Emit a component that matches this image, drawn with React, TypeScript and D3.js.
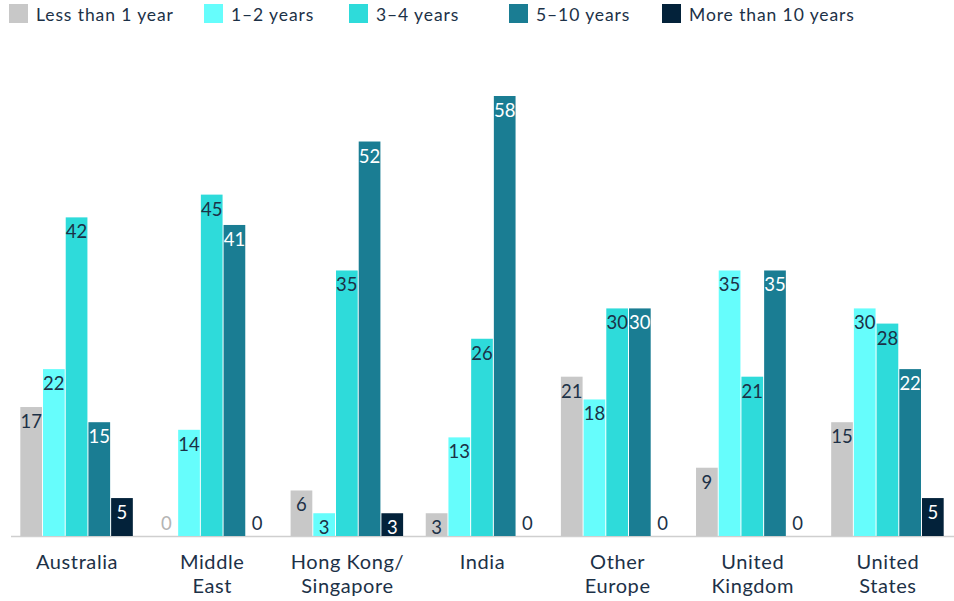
import React from "react";
import * as d3 from "d3";

const categories: string[][] = [
  ["Australia"],
  ["Middle", "East"],
  ["Hong Kong/", "Singapore"],
  ["India"],
  ["Other", "Europe"],
  ["United", "Kingdom"],
  ["United", "States"],
];
const seriesNames = ["Less than 1 year", "1–2 years", "3–4 years", "5–10 years", "More than 10 years"];
const lessThan1 = [17, 0, 6, 3, 21, 9, 15];
const oneToTwo = [22, 14, 3, 13, 18, 35, 30];
const threeToFour = [42, 45, 35, 26, 30, 21, 28];
const fiveToTen = [15, 41, 52, 58, 30, 35, 22];
const moreThan10 = [5, 0, 3, 0, 0, 0, 5];
const seriesValues = [lessThan1, oneToTwo, threeToFour, fiveToTen, moreThan10];
const colors = ["#c8c8c8", "#66fdfc", "#2edbda", "#1a7d93", "#03223a"];
const labelColors = ["#1c3147", "#1c3147", "#1c3147", "#ffffff", "#ffffff"];
const zeroColors = ["#b4b4b4", "#1c3147", "#1c3147", "#1c3147", "#1c3147"];
const legendX = [9, 204, 349, 509, 662];

const W = 954;
const H = 601;
const FONT = "Lato, 'Open Sans', sans-serif";
const TEXT = "#1c3147";

export default function App() {
  const x0 = d3
    .scaleBand<number>()
    .domain(d3.range(categories.length))
    .range([9.5, 955.5])
    .paddingInner(0.16)
    .paddingOuter(0.08);
  const x1 = d3
    .scaleBand<number>()
    .domain(d3.range(seriesNames.length))
    .range([0, x0.bandwidth()]);
  const y = d3.scaleLinear().domain([0, 58]).range([536, 96]);

  return (
    <svg
      width={W}
      height={H}
      style={{ position: "absolute", left: 0, top: 0, background: "#fff" }}
      fontFamily={FONT}
    >
      {seriesNames.map((name, i) => (
        <g key={name}>
          <rect x={legendX[i]} y={4} width={19} height={19} fill={colors[i]} />
          <text x={legendX[i] + 27} y={20.5} fontSize={17.5} letterSpacing={0.9} fill={TEXT}>
            {name}
          </text>
        </g>
      ))}
      <line x1={11} x2={954} y1={536.5} y2={536.5} stroke="#cfcfcf" strokeWidth={1.5} />
      {categories.map((cat, ci) => (
        <g key={ci} transform={`translate(${x0(ci)},0)`}>
          {seriesValues.map((vals, si) => {
            const v = vals[ci];
            const bx = x1(si)!;
            const bw = x1.bandwidth() - 1;
            const top = y(v);
            return (
              <g key={si}>
                {v > 0 && (
                  <rect x={bx} y={top} width={bw} height={y(0) - top} fill={colors[si]} />
                )}
                <text
                  x={bx + bw / 2}
                  y={v > 0 ? top + 21 : y(0) - 6}
                  textAnchor="middle"
                  fontSize={18.5}
                  fill={v > 0 ? labelColors[si] : zeroColors[si]}
                >
                  {v}
                </text>
              </g>
            );
          })}
          {cat.map((line, li) => (
            <text
              key={li}
              x={x0.bandwidth() / 2}
              y={569 + li * 24}
              textAnchor="middle"
              fontSize={20}
              letterSpacing={0.6}
              fill={TEXT}
            >
              {line}
            </text>
          ))}
        </g>
      ))}
    </svg>
  );
}
